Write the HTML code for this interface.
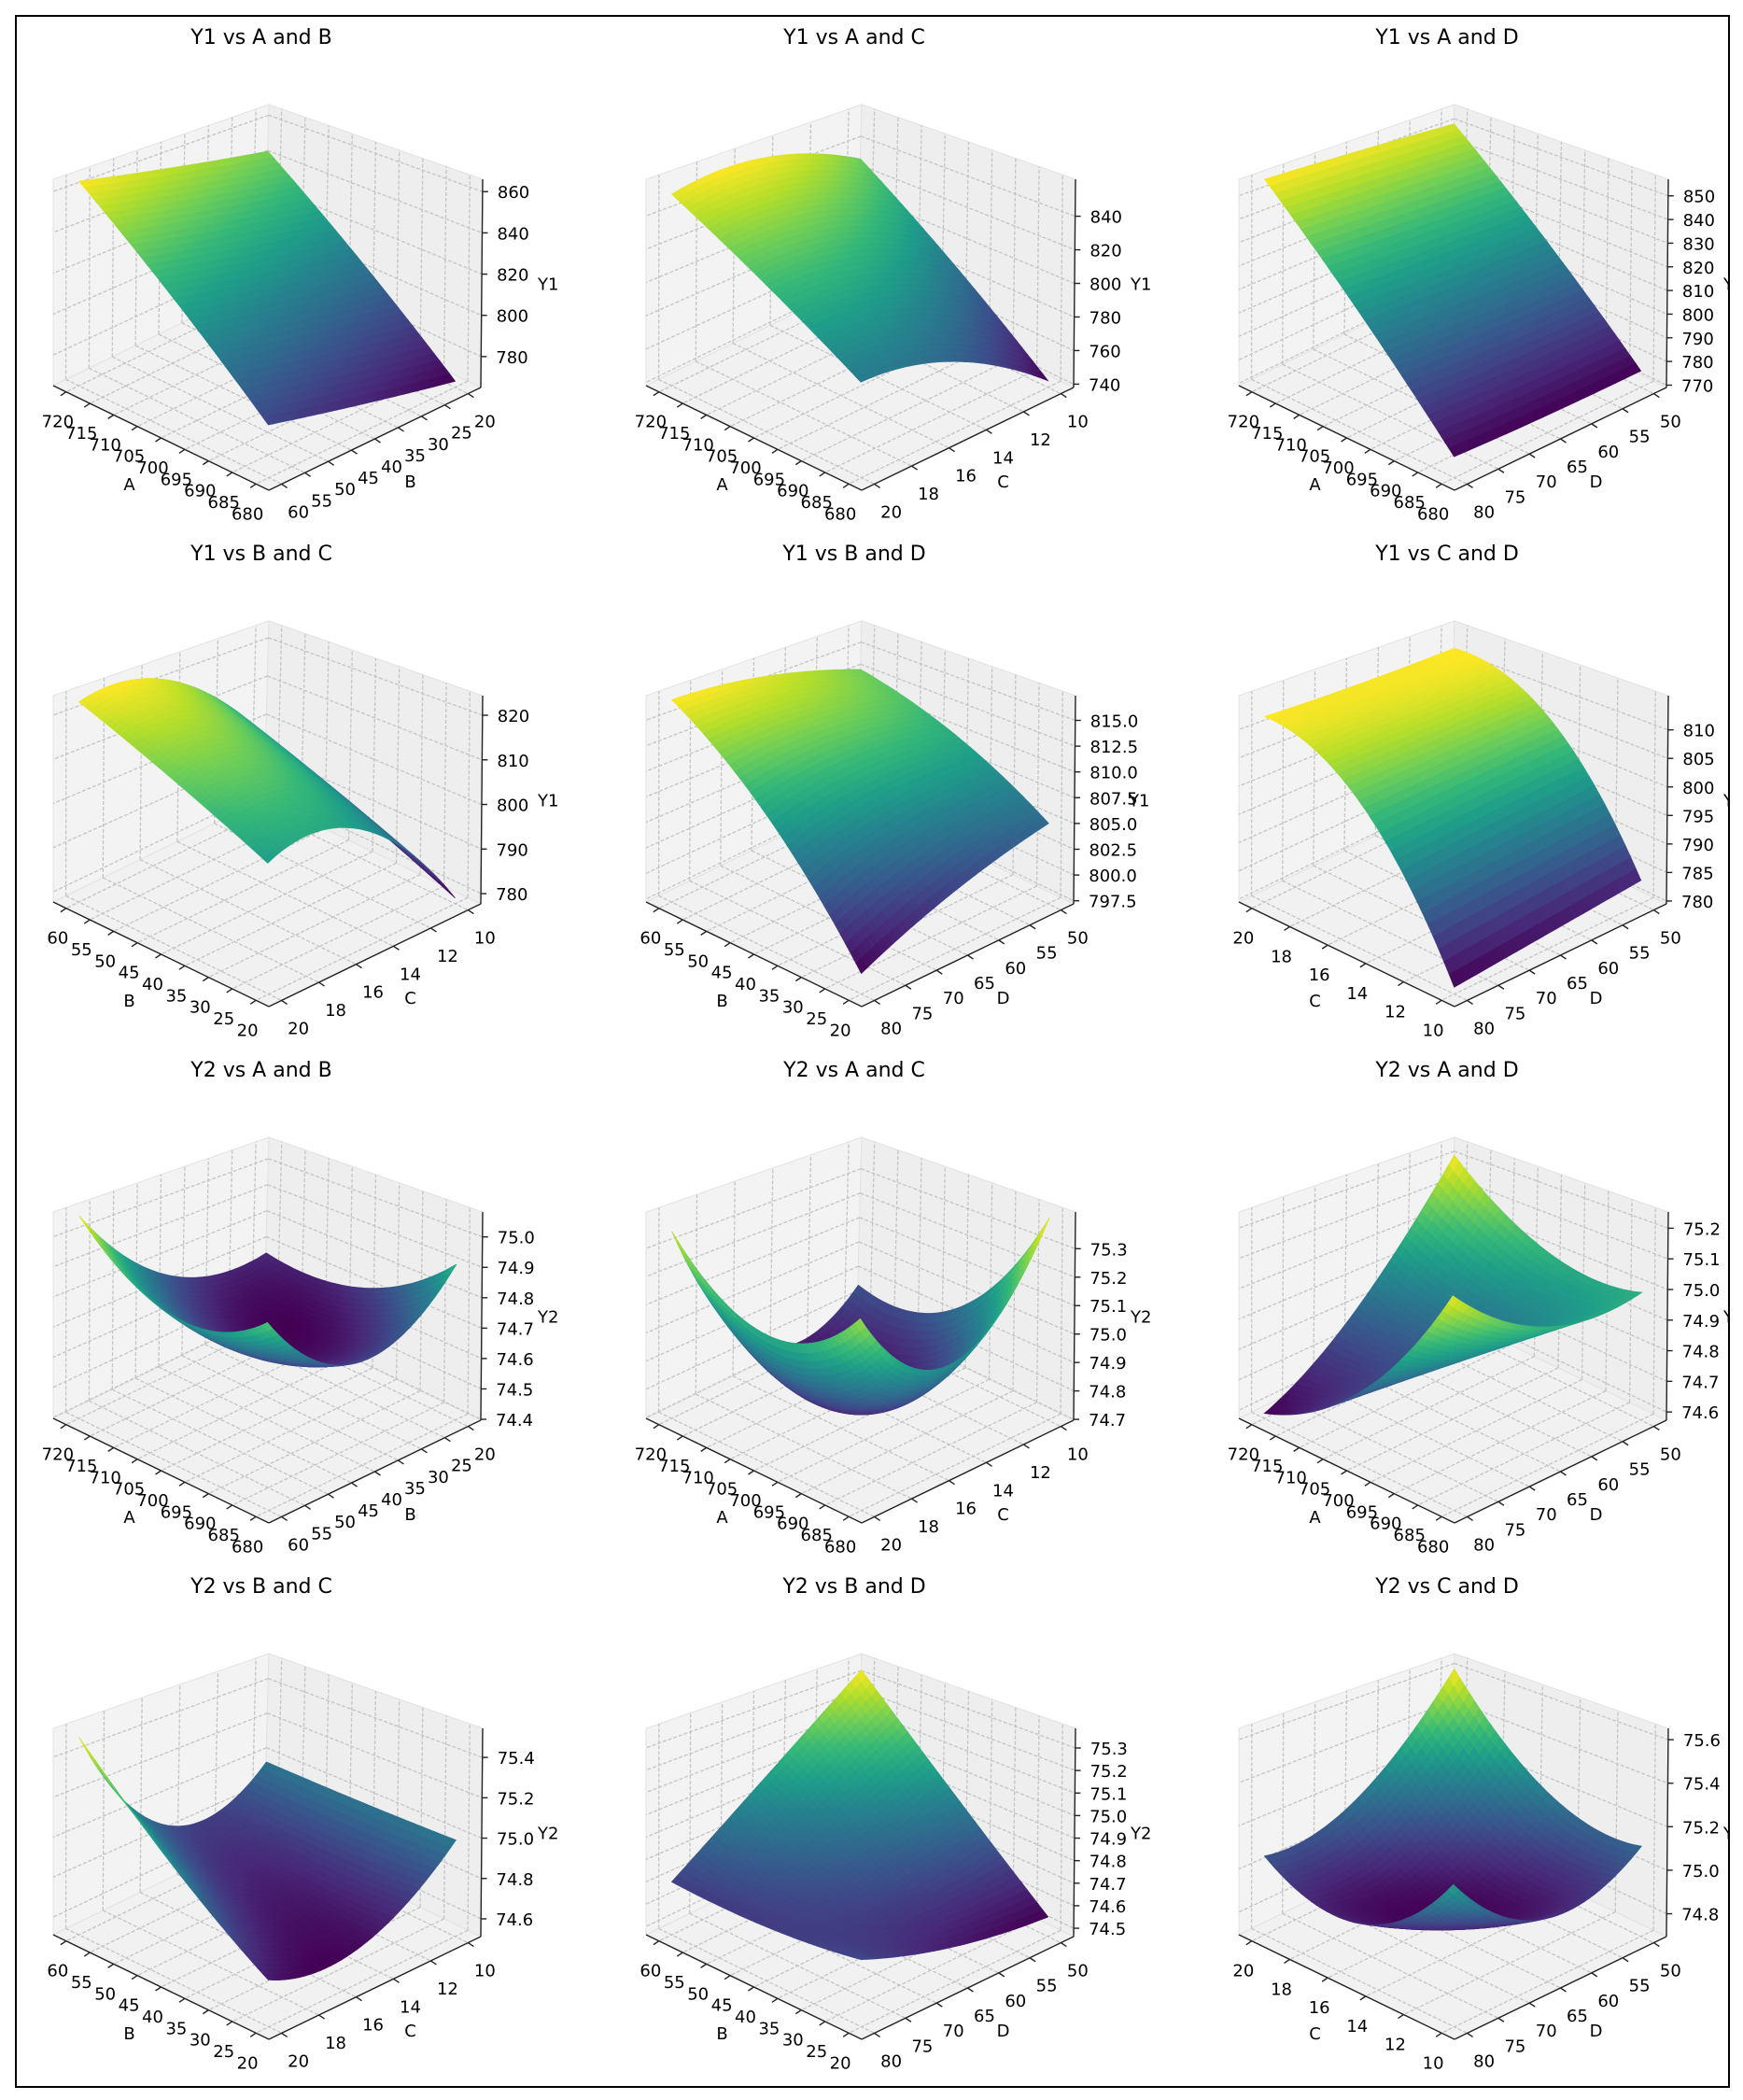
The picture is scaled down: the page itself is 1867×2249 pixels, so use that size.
<!DOCTYPE html>
<html><head><meta charset="utf-8"><title>Response surfaces</title>
<style>
html,body{margin:0;padding:0;background:#fff;}
svg{display:block;}
text{font-family:"DejaVu Sans","Liberation Sans",sans-serif;fill:#000;}
</style></head>
<body>
<svg id="fig" xmlns="http://www.w3.org/2000/svg" width="1867" height="2249" viewBox="0 0 1867 2249">
<defs><clipPath id="frameClip"><rect x="18" y="18" width="1833" height="2216"/></clipPath></defs>
<rect x="17" y="17" width="1835" height="2218" fill="#fff" stroke="#000" stroke-width="2"/>
<g id="plots" clip-path="url(#frameClip)"></g>
</svg>
<script>
// ---- data ----
const titles = ["Y1 vs A and B","Y1 vs A and C","Y1 vs A and D","Y1 vs B and C","Y1 vs B and D","Y1 vs C and D",
                "Y2 vs A and B","Y2 vs A and C","Y2 vs A and D","Y2 vs B and C","Y2 vs B and D","Y2 vs C and D"];
const firstVar  = ["A","A","A","B","B","C","A","A","A","B","B","C"];
const secondVar = ["B","C","D","C","D","D","B","C","D","C","D","D"];
const responseName = ["Y1","Y1","Y1","Y1","Y1","Y1","Y2","Y2","Y2","Y2","Y2","Y2"];
const varMin = {A:680,B:20,C:10,D:50};
const varMax = {A:720,B:60,C:20,D:80};
const varTicks = {
  A:[680,685,690,695,700,705,710,715,720],
  B:[20,25,30,35,40,45,50,55,60],
  C:[10,12,14,16,18,20],
  D:[50,55,60,65,70,75,80]
};
const zLow  = [765,738,769,777.7,797.2,779.5,74.397,74.697,74.573,74.512,74.463,74.695];
const zHigh = [866,862,857,824.4,817.4,816,75.082,75.429,75.253,75.544,75.387,75.652];
const zTicks = [
  [780,800,820,840,860],
  [740,760,780,800,820,840],
  [770,780,790,800,810,820,830,840,850],
  [780,790,800,810,820],
  [797.5,800,802.5,805,807.5,810,812.5,815],
  [780,785,790,795,800,805,810],
  [74.4,74.5,74.6,74.7,74.8,74.9,75.0],
  [74.7,74.8,74.9,75.0,75.1,75.2,75.3],
  [74.6,74.7,74.8,74.9,75.0,75.1,75.2],
  [74.6,74.8,75.0,75.2,75.4],
  [74.5,74.6,74.7,74.8,74.9,75.0,75.1,75.2,75.3],
  [74.8,75.0,75.2,75.4,75.6]
];
const zTickLabels = [
  ["780","800","820","840","860"],
  ["740","760","780","800","820","840"],
  ["770","780","790","800","810","820","830","840","850"],
  ["780","790","800","810","820"],
  ["797.5","800.0","802.5","805.0","807.5","810.0","812.5","815.0"],
  ["780","785","790","795","800","805","810"],
  ["74.4","74.5","74.6","74.7","74.8","74.9","75.0"],
  ["74.7","74.8","74.9","75.0","75.1","75.2","75.3"],
  ["74.6","74.7","74.8","74.9","75.0","75.1","75.2"],
  ["74.6","74.8","75.0","75.2","75.4"],
  ["74.5","74.6","74.7","74.8","74.9","75.0","75.1","75.2","75.3"],
  ["74.8","75.0","75.2","75.4","75.6"]
];
// z grids: rows = first var (min, mid, max); cols = second var (min, mid, max)
const surfaceZ = [
  [[768,778,788],[806.5,816.5,826.5],[845,855,865]],
  [[742,778,789],[787,816,821],[831,855,853]],
  [[776,776,777],[814,815,817],[852,855,857]],
  [[779,803,804],[788,811.5,813.5],[797,820,823]],
  [[805,802.5,799],[810,811,809.5],[813,816,817]],
  [[783.6,782,780.6],[806,805,804],[812.3,812,812.3]],
  [[74.91,74.72,74.95],[74.70,74.64,74.86],[74.68,74.74,75.07]],
  [[75.41,75.04,75.30],[74.94,74.72,75.13],[74.87,74.80,75.36]],
  [[74.99,75.0,75.2],[75.0,74.8,74.795],[75.22,74.805,74.59]],
  [[74.99,74.68,74.72],[74.98,74.72,75.05],[74.98,74.85,75.50]],
  [[74.55,74.61,74.73],[74.92,74.78,74.69],[75.35,75.0,74.70]],
  [[75.11,74.97,75.28],[75.18,74.88,74.945],[75.62,75.15,75.06]]
];

// ---- geometry ----
const NS = "http://www.w3.org/2000/svg";
const root = document.getElementById('plots');
const FB=[283,303],FR=[515,415],FL=[57,413],FF=[288,525];
const TB=[288,112],TR=[517,192],TL=[57,192],TF=[286,272];
const M = 0.06;
const viridis = [[68,1,84],[72,40,120],[62,74,137],[49,104,142],[38,130,142],[31,158,137],[53,183,121],[110,206,88],[181,222,43],[253,231,37]];
function vcol(v){v=Math.max(0,Math.min(1,v));const p=v*(viridis.length-1);const i=Math.min(viridis.length-2,Math.floor(p));const f=p-i;
  const c=viridis[i].map((a,k)=>Math.round(a+(viridis[i+1][k]-a)*f));return `rgb(${c[0]},${c[1]},${c[2]})`;}
function mk(tag,attrs,parent){const e=document.createElementNS(NS,tag);for(const k in attrs)e.setAttribute(k,attrs[k]);(parent||root).appendChild(e);return e;}
function L3(u){return [2*(u-.5)*(u-1),-4*u*(u-1),2*u*(u-.5)];}

for(let p=0;p<12;p++){
  const r=Math.floor(p/3), c=p%3, ox=635*c, oy=553*r;
  const P=(s,t,w)=>{
    const b=[0,1].map(k=>FB[k]*(1-s)*(1-t)+FR[k]*s*(1-t)+FL[k]*(1-s)*t+FF[k]*s*t);
    const tp=[0,1].map(k=>TB[k]*(1-s)*(1-t)+TR[k]*s*(1-t)+TL[k]*(1-s)*t+TF[k]*s*t);
    return [ox+b[0]*(1-w)+tp[0]*w, oy+b[1]*(1-w)+tp[1]*w];
  };
  const pts=a=>a.map(q=>q[0].toFixed(1)+','+q[1].toFixed(1)).join(' ');
  const g=mk('g',{});
  
  
  const v1=firstVar[p], v2=secondVar[p], zl=zLow[p], zh=zHigh[p];
  const sOf=v=>M+(1-(v-varMin[v1])/(varMax[v1]-varMin[v1]))*(1-2*M);
  const tOf=v=>M+((v-varMin[v2])/(varMax[v2]-varMin[v2]))*(1-2*M);
  const wOf=z=>(z-zl)/(zh-zl);

  const title=mk('text',{x:280+ox,y:47+oy,'text-anchor':'middle','font-size':22},g);
  title.textContent=titles[p];
  
  

  const lw=mk('polygon',{points:pts([P(0,0,0),P(0,1,0),P(0,1,1),P(0,0,1)]),fill:'#f3f3f3',stroke:'#e2e2e2'},g);
  
  const rw=mk('polygon',{points:pts([P(0,0,0),P(1,0,0),P(1,0,1),P(0,0,1)]),fill:'#eeeeee',stroke:'#e2e2e2'},g);
  
  const fl=mk('polygon',{points:pts([P(0,0,0),P(1,0,0),P(1,1,0),P(0,1,0)]),fill:'#f1f1f1',stroke:'#e2e2e2'},g);
  

  const gl={stroke:'#c4c4c4','stroke-width':1.3,'stroke-dasharray':'4,2',fill:'none'};
  const line=(a,b,att,name)=>{const e=mk('line',Object.assign({x1:a[0],y1:a[1],x2:b[0],y2:b[1]},att),g);return e;};
  varTicks[v1].forEach(v=>{const s=sOf(v);line(P(s,0,0),P(s,1,0),gl,'grid-line');line(P(s,0,0),P(s,0,1),gl,'grid-line');});
  varTicks[v2].forEach(v=>{const t=tOf(v);line(P(0,t,0),P(1,t,0),gl,'grid-line');line(P(0,t,0),P(0,t,1),gl,'grid-line');});
  zTicks[p].forEach(z=>{const w=wOf(z);line(P(0,0,w),P(0,1,w),gl,'grid-line');line(P(0,0,w),P(1,0,w),gl,'grid-line');});

  const al={stroke:'#222','stroke-width':1.4};
  line(P(0,1,0),P(1,1,0),al,'x-axis-line');
  line(P(1,1,0),P(1,0,0),al,'y-axis-line');
  line(P(1,0,0),P(1,0,1),al,'z-axis-line');

  varTicks[v1].forEach(v=>{const q=P(sOf(v),1,0);line(q,[q[0]-6,q[1]+4],al,'x-tick');
    const e=mk('text',{x:q[0]-9,y:q[1]+38,'text-anchor':'middle','font-size':18},g);e.textContent=String(v);
    });
  varTicks[v2].forEach(v=>{const q=P(1,tOf(v),0);line(q,[q[0]+6,q[1]+4],al,'y-tick');
    const e=mk('text',{x:q[0]+18,y:q[1]+36,'text-anchor':'middle','font-size':18},g);e.textContent=String(v);
    });
  zTicks[p].forEach((z,k)=>{const q=P(1,0,wOf(z));line(q,[q[0]+6,q[1]],al,'z-tick');
    const e=mk('text',{x:q[0]+16,y:q[1]+7,'text-anchor':'start','font-size':18},g);e.textContent=zTickLabels[p][k];
    });
  const m1=P(0.5,1,0), m2=P(1,0.5,0), m3=P(1,0,0.5);
  const a1=mk('text',{x:m1[0]-34,y:m1[1]+56,'text-anchor':'middle','font-size':18},g);a1.textContent=v1;
  
  const a2=mk('text',{x:m2[0]+38,y:m2[1]+52,'text-anchor':'middle','font-size':18},g);a2.textContent=v2;
  
  const a3=mk('text',{x:m3[0]+(p===4?58:60),y:m3[1]+7,'text-anchor':'start','font-size':18},g);a3.textContent=responseName[p];
  

  const Zg=surfaceZ[p], N=36;
  const zAt=(fi,fj)=>{const li=L3(fi),lj=L3(fj);let z=0;for(let a=0;a<3;a++)for(let b=0;b<3;b++)z+=li[a]*lj[b]*Zg[a][b];return z;};
  const grid=[];let zmin=1e9,zmax=-1e9;
  for(let i=0;i<=N;i++){grid.push([]);for(let j=0;j<=N;j++){const z=zAt(i/N,j/N);grid[i].push(z);zmin=Math.min(zmin,z);zmax=Math.max(zmax,z);}}
  const quads=[];
  for(let i=0;i<N;i++)for(let j=0;j<N;j++){
    const corner=(a,b)=>{const s=M+(1-a/N)*(1-2*M),t=M+(b/N)*(1-2*M),w=wOf(grid[a][b]);return {s,t,w};};
    const cs=[corner(i,j),corner(i+1,j),corner(i+1,j+1),corner(i,j+1)];
    const zc=(grid[i][j]+grid[i+1][j]+grid[i+1][j+1]+grid[i][j+1])/4;
    const sm=cs.reduce((a,q)=>a+q.s,0)/4,tm=cs.reduce((a,q)=>a+q.t,0)/4,wm=cs.reduce((a,q)=>a+q.w,0)/4;
    quads.push({d:(sm+tm)*0.7+wm*0.5,poly:cs.map(q=>P(q.s,q.t,q.w)),col:vcol((zc-zmin)/(zmax-zmin||1))});
  }
  quads.sort((a,b)=>a.d-b.d);
  const sg=mk('g',{},g);
  
  
  quads.forEach(q=>{const e=mk('polygon',{points:pts(q.poly),fill:q.col,stroke:q.col,'stroke-width':0.8},sg);
    
    });
}
</script>
</body></html>
